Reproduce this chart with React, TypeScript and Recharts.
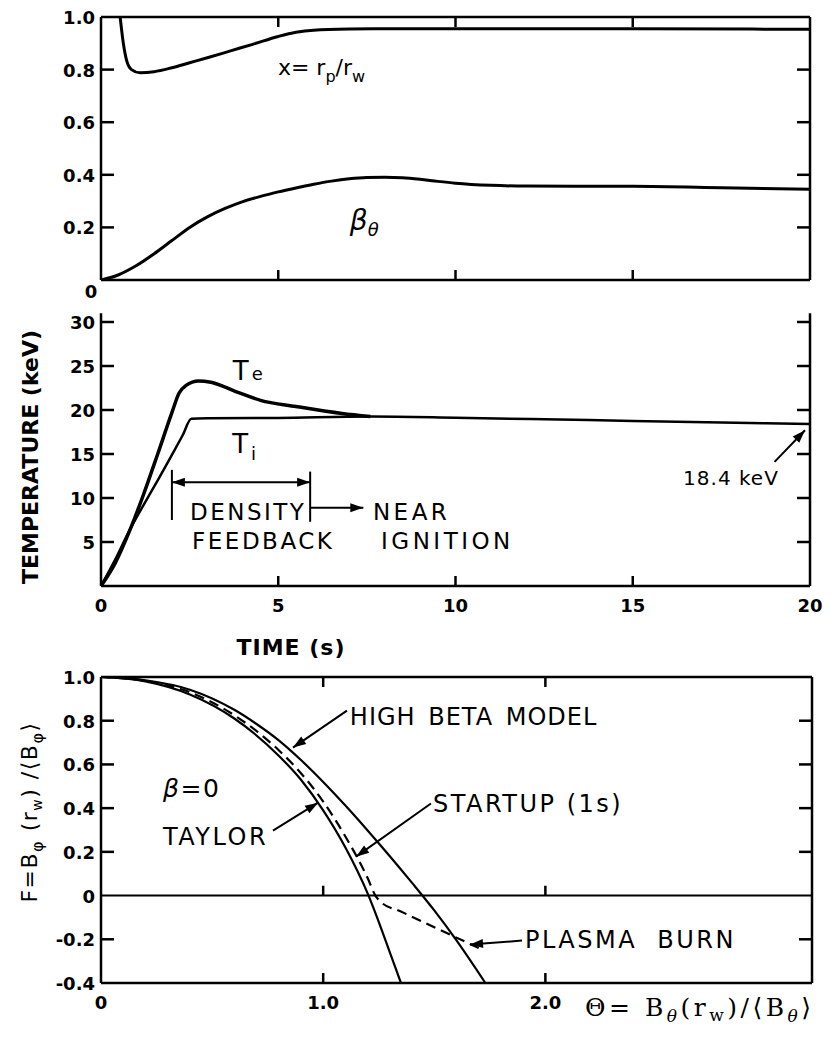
import React from 'react';
import { LineChart, Line, XAxis, YAxis, ReferenceLine } from 'recharts';

// top panel: x = rp/rw and beta-theta against time (s)
const timeX = [0.54, 0.63, 0.72, 0.86, 1.1, 1.5, 2.0, 2.5, 3.0, 3.7, 4.3, 5.0, 5.5, 6.0, 7.0, 8.0, 10, 15, 20];
const xRatio = [1.0, 0.9, 0.836, 0.8, 0.788, 0.792, 0.807, 0.826, 0.845, 0.873, 0.897, 0.926, 0.942, 0.95, 0.954, 0.955, 0.955, 0.955, 0.953];
const timeBeta = [0, 0.5, 1.0, 1.5, 2.0, 2.5, 3.0, 3.5, 4.0, 4.5, 5.0, 5.5, 6.0, 6.5, 7.0, 7.5, 8.0, 8.5, 9.0, 9.5, 10, 11, 12, 15, 17.5, 20];
const betaTheta = [0, 0.02, 0.055, 0.1, 0.15, 0.2, 0.24, 0.272, 0.298, 0.318, 0.335, 0.35, 0.364, 0.376, 0.385, 0.39, 0.391, 0.389, 0.383, 0.375, 0.368, 0.36, 0.357, 0.356, 0.351, 0.345];

// middle panel: temperatures (keV)
const timeTe = [0, 0.4, 0.8, 1.2, 1.6, 2.0, 2.2, 2.4, 2.75, 3.1, 3.8, 4.5, 5.5, 6.8, 7.6];
const tempE = [0, 2.6, 6.2, 10.4, 15.0, 19.7, 21.9, 22.8, 23.3, 23.15, 22.1, 21.1, 20.4, 19.6, 19.25];
const timeTi = [0, 0.4, 0.8, 1.2, 1.6, 2.0, 2.3, 2.55, 3.0, 5.0, 7.6, 10, 12.5, 15, 17.5, 20];
const tempI = [0, 3.0, 6.3, 9.2, 12.0, 14.9, 17.1, 19.0, 19.05, 19.1, 19.25, 19.12, 18.94, 18.76, 18.58, 18.4];

// bottom panel: F against Theta
const thetaTaylor = [0, 0.2, 0.4, 0.6, 0.8, 0.9, 1.0, 1.1, 1.2, 1.25, 1.3, 1.35];
const fTaylor = [1.0, 0.98, 0.92, 0.81, 0.64, 0.53, 0.39, 0.22, 0.01, -0.12, -0.26, -0.4];
const thetaHighBeta = [0, 0.2, 0.4, 0.6, 0.7, 0.8, 0.9, 1.0, 1.1, 1.2, 1.3, 1.4, 1.5, 1.6, 1.73];
const fHighBeta = [1.0, 0.985, 0.942, 0.85, 0.785, 0.71, 0.62, 0.52, 0.412, 0.298, 0.18, 0.058, -0.068, -0.205, -0.4];
const thetaStartup = [0, 0.2, 0.4, 0.6, 0.8, 0.9, 1.0, 1.1, 1.2, 1.235, 1.26, 1.35, 1.5, 1.7];
const fStartup = [1.0, 0.982, 0.93, 0.825, 0.665, 0.56, 0.43, 0.27, 0.08, 0.0, -0.03, -0.073, -0.145, -0.24];

// ticks
const timeTicks = [0, 5, 10, 15, 20];
const innerTimeTicks = [5, 10, 15];
const fracTicks = [0, 0.2, 0.4, 0.6, 0.8, 1.0];
const innerFracTicks = [0.2, 0.4, 0.6, 0.8];
const tempTicks = [5, 10, 15, 20, 25, 30];
const fTicks = [-0.4, -0.2, 0, 0.2, 0.4, 0.6, 0.8, 1.0];
const innerFTicks = [-0.2, 0.2, 0.4, 0.6, 0.8];
const thetaTicks = [0, 1, 2];
const innerThetaTicks = [1, 2];

const INK = '#000';
const SANS = '"DejaVu Sans", "Liberation Sans", sans-serif';
const SERIF = '"DejaVu Serif", serif';
const AXIS = { stroke: INK, strokeWidth: 2.5 };
const TICK_TEXT: React.CSSProperties = { fontFamily: SANS, fontSize: 18, fontWeight: 700, fill: INK };
const NOTE: React.CSSProperties = { fontFamily: SANS, fontSize: 23, fill: INK, letterSpacing: 2.5 };

const pts = (xs: number[], ys: number[]) => xs.map((x, i) => ({ x, y: ys[i] }));
const fmt1 = (v: number) => (v === 0 ? '0' : v.toFixed(1));
const fmtInt = (v: number) => String(v);

// ticks are drawn inward by hand, labels outside
const leftTick = (lines: number[], fmt: (v: number) => string, zeroBelow = false) => (p: any) => {
  const v = p.payload.value;
  const low = zeroBelow && v === 0;
  return (
    <g>
      {lines.includes(v) && <line x1={p.x} y1={p.y} x2={p.x + 13} y2={p.y} stroke={INK} strokeWidth={2.5} />}
      <text x={low ? p.x - 10 : p.x - 6} y={low ? p.y + 18 : p.y + 7} textAnchor={low ? 'middle' : 'end'} style={TICK_TEXT}>
        {fmt(v)}
      </text>
    </g>
  );
};
const rightTick = (p: any) => <line x1={p.x - 13} y1={p.y} x2={p.x} y2={p.y} stroke={INK} strokeWidth={2.5} />;
const topTick = (p: any) => <line x1={p.x} y1={p.y} x2={p.x} y2={p.y + 10} stroke={INK} strokeWidth={2.5} />;
const bottomTick = (lines: number[], fmt: ((v: number) => string) | null) => (p: any) => {
  const v = p.payload.value;
  return (
    <g>
      {lines.includes(v) && <line x1={p.x} y1={p.y} x2={p.x} y2={p.y - 10} stroke={INK} strokeWidth={2.5} />}
      {fmt && (
        <text x={p.x} y={p.y + 26} textAnchor="middle" style={TICK_TEXT}>
          {fmt(v)}
        </text>
      )}
    </g>
  );
};

const ArrowGlyph = ({ x1, y1, x2, y2, both }: any) => {
  const head = (tx: number, ty: number, fx: number, fy: number) => {
    const a = Math.atan2(ty - fy, tx - fx);
    const L = 13;
    const W = 4.5;
    const bx = tx - L * Math.cos(a);
    const by = ty - L * Math.sin(a);
    const px = -Math.sin(a) * W;
    const py = Math.cos(a) * W;
    return <polygon points={`${tx},${ty} ${bx + px},${by + py} ${bx - px},${by - py}`} fill={INK} />;
  };
  return (
    <g>
      <line x1={x1} y1={y1} x2={x2} y2={y2} stroke={INK} strokeWidth={2} />
      {head(x2, y2, x1, y1)}
      {both && head(x1, y1, x2, y2)}
    </g>
  );
};

const arrow = (key: string, from: number[], to: number[], both = false) => (
  <ReferenceLine
    key={key}
    segment={[{ x: from[0], y: from[1] }, { x: to[0], y: to[1] }]}
    ifOverflow="visible"
    shape={(p: any) => <ArrowGlyph {...p} both={both} />}
  />
);
const seg = (key: string, from: number[], to: number[], w = 2) => (
  <ReferenceLine key={key} segment={[{ x: from[0], y: from[1] }, { x: to[0], y: to[1] }]} ifOverflow="visible" stroke={INK} strokeWidth={w} />
);
const textAt = (key: string, x: number, y: number, draw: (px: number, py: number) => React.ReactNode) => (
  <ReferenceLine key={key} segment={[{ x, y }, { x, y }]} ifOverflow="visible" shape={(p: any) => <g>{draw(p.x1, p.y1)}</g>} />
);

export default function App() {
  return (
    <div style={{ position: 'absolute', left: 0, top: 0, width: 829, height: 1053, background: '#fff' }}>
      {/* top panel */}
      <div style={{ position: 'absolute', left: 0, top: 0 }}>
        <LineChart width={829} height={310} margin={{ top: 7, right: 0, bottom: 0, left: 61 }}>
          <XAxis type="number" dataKey="x" domain={[0, 20]} allowDataOverflow ticks={innerTimeTicks} interval={0}
            height={30} tickSize={0} tickMargin={0} tickLine={false} axisLine={AXIS} tick={bottomTick(innerTimeTicks, null)} />
          <XAxis xAxisId="top" orientation="top" type="number" dataKey="x" domain={[0, 20]} allowDataOverflow ticks={innerTimeTicks} interval={0}
            height={10} tickSize={0} tickMargin={0} tickLine={false} axisLine={AXIS} tick={topTick} />
          <YAxis type="number" domain={[0, 1]} allowDataOverflow ticks={fracTicks} interval={0} width={40}
            tickSize={0} tickMargin={0} tickLine={false} axisLine={AXIS} tick={leftTick(innerFracTicks, fmt1, true)} />
          <YAxis yAxisId="right" orientation="right" type="number" domain={[0, 1]} allowDataOverflow ticks={innerFracTicks} interval={0} width={19}
            tickSize={0} tickMargin={0} tickLine={false} axisLine={AXIS} tick={rightTick} />
          <Line data={pts(timeX, xRatio)} dataKey="y" type="monotone" stroke={INK} strokeWidth={3} dot={false} activeDot={false} isAnimationActive={false} />
          <Line data={pts(timeBeta, betaTheta)} dataKey="y" type="monotone" stroke={INK} strokeWidth={3} dot={false} activeDot={false} isAnimationActive={false} />
          {textAt('xl', 4.99, 0.78, (x, y) => (
            <text x={x} y={y} style={{ fontFamily: SANS, fontSize: 22, fill: INK }}>
              x= r<tspan fontSize={16} dy={7}>p</tspan>
              <tspan dy={-7}>/r</tspan>
              <tspan fontSize={16} dy={7}>w</tspan>
            </text>
          ))}
          {textAt('bl', 7.02, 0.19, (x, y) => (
            <text x={x} y={y} style={{ fontFamily: SANS, fontSize: 28, fontStyle: 'italic', fill: INK }}>
              β<tspan fontSize={18} dy={6}>θ</tspan>
            </text>
          ))}
        </LineChart>
      </div>

      {/* middle panel */}
      <div style={{ position: 'absolute', left: 0, top: 300 }}>
        <LineChart width={829} height={330} margin={{ top: 13.2, right: 0, bottom: 0, left: 61 }}>
          <XAxis type="number" dataKey="x" domain={[0, 20]} allowDataOverflow ticks={timeTicks} interval={0}
            height={44} tickSize={0} tickMargin={0} tickLine={false} axisLine={AXIS} tick={bottomTick(innerTimeTicks, fmtInt)} />
          <YAxis type="number" domain={[0, 31]} allowDataOverflow ticks={tempTicks} interval={0} width={40}
            tickSize={0} tickMargin={0} tickLine={false} axisLine={AXIS} tick={leftTick(tempTicks, fmtInt)} />
          <YAxis yAxisId="right" orientation="right" type="number" domain={[0, 31]} allowDataOverflow ticks={tempTicks} interval={0} width={19}
            tickSize={0} tickMargin={0} tickLine={false} axisLine={AXIS} tick={rightTick} />
          <Line data={pts(timeTe, tempE)} dataKey="y" type="monotone" stroke={INK} strokeWidth={3.5} dot={false} activeDot={false} isAnimationActive={false} />
          <Line data={pts(timeTi, tempI)} dataKey="y" type="monotone" stroke={INK} strokeWidth={2.5} dot={false} activeDot={false} isAnimationActive={false} />
          {seg('bl', [2.0, 7.5], [2.0, 13.2])}
          {seg('br', [5.9, 7.3], [5.9, 13.0])}
          {arrow('ba', [2.0, 11.8], [5.9, 11.8], true)}
          {arrow('na', [5.9, 8.9], [7.4, 8.9])}
          {arrow('ka', [19.0, 14.1], [19.86, 17.7])}
          {textAt('te', 3.72, 23.4, (x, y) => (
            <text x={x} y={y} style={{ fontFamily: SANS, fontSize: 26, fill: INK }}>
              T<tspan fontSize={18} dx={3}>e</tspan>
            </text>
          ))}
          {textAt('ti', 3.7, 15.1, (x, y) => (
            <text x={x} y={y} style={{ fontFamily: SANS, fontSize: 26, fill: INK }}>
              T<tspan fontSize={18} dx={3} dy={7}>i</tspan>
            </text>
          ))}
          {textAt('d1', 2.51, 7.5, (x, y) => <text x={x} y={y} style={NOTE}>DENSITY</text>)}
          {textAt('d2', 2.57, 4.2, (x, y) => <text x={x} y={y} style={NOTE}>FEEDBACK</text>)}
          {textAt('n1', 7.67, 7.5, (x, y) => <text x={x} y={y} style={{ ...NOTE, letterSpacing: 3.5 }}>NEAR</text>)}
          {textAt('n2', 7.9, 4.2, (x, y) => <text x={x} y={y} style={{ ...NOTE, letterSpacing: 3.5 }}>IGNITION</text>)}
          {textAt('kv', 16.42, 11.5, (x, y) => (
            <text x={x} y={y} style={{ fontFamily: SANS, fontSize: 20, fill: INK, letterSpacing: 1 }}>18.4 keV</text>
          ))}
        </LineChart>
      </div>

      {/* bottom panel */}
      <div style={{ position: 'absolute', left: 0, top: 650 }}>
        <LineChart width={829} height={403} margin={{ top: 17, right: 0, bottom: 0, left: 61 }}>
          <XAxis type="number" dataKey="x" domain={[0, 3.2]} allowDataOverflow ticks={thetaTicks} interval={0}
            height={70} tickSize={0} tickMargin={0} tickLine={false} axisLine={AXIS} tick={bottomTick(innerThetaTicks, fmt1)} />
          <XAxis xAxisId="top" orientation="top" type="number" dataKey="x" domain={[0, 3.2]} allowDataOverflow ticks={innerThetaTicks} interval={0}
            height={10} tickSize={0} tickMargin={0} tickLine={false} axisLine={AXIS} tick={topTick} />
          <YAxis type="number" domain={[-0.4, 1]} allowDataOverflow ticks={fTicks} interval={0} width={40}
            tickSize={0} tickMargin={0} tickLine={false} axisLine={AXIS} tick={leftTick(innerFTicks, fmt1)} />
          <YAxis yAxisId="right" orientation="right" type="number" domain={[-0.4, 1]} allowDataOverflow ticks={innerFTicks} interval={0} width={17}
            tickSize={0} tickMargin={0} tickLine={false} axisLine={AXIS} tick={rightTick} />
          <ReferenceLine y={0} stroke={INK} strokeWidth={2} />
          {seg('z1', [1, 0], [1, 0.045], 2.5)}
          {seg('z2', [2, 0], [2, 0.045], 2.5)}
          <Line data={pts(thetaTaylor, fTaylor)} dataKey="y" type="monotone" stroke={INK} strokeWidth={2.2} dot={false} activeDot={false} isAnimationActive={false} />
          <Line data={pts(thetaHighBeta, fHighBeta)} dataKey="y" type="monotone" stroke={INK} strokeWidth={2.2} dot={false} activeDot={false} isAnimationActive={false} />
          <Line data={pts(thetaStartup, fStartup)} dataKey="y" type="monotone" stroke={INK} strokeWidth={2.2} strokeDasharray="10 6" dot={false} activeDot={false} isAnimationActive={false} />
          {arrow('ah', [1.107, 0.846], [0.864, 0.677])}
          {arrow('at', [0.774, 0.297], [0.977, 0.425])}
          {arrow('as', [1.485, 0.421], [1.148, 0.178])}
          {arrow('ap', [1.895, -0.206], [1.661, -0.224])}
          {textAt('hb', 1.12, 0.782, (x, y) => (
            <text x={x} y={y} style={{ ...NOTE, fontSize: 24, letterSpacing: 1, wordSpacing: 4 }}>HIGH BETA MODEL</text>
          ))}
          {textAt('b0', 0.279, 0.453, (x, y) => (
            <text x={x} y={y} style={{ ...NOTE, fontSize: 25, letterSpacing: 1.5 }}>
              <tspan fontStyle="italic">β</tspan>=0
            </text>
          ))}
          {textAt('ty', 0.279, 0.233, (x, y) => <text x={x} y={y} style={{ ...NOTE, fontSize: 24 }}>TAYLOR</text>)}
          {textAt('su', 1.494, 0.384, (x, y) => <text x={x} y={y} style={{ ...NOTE, fontSize: 24 }}>STARTUP (1s)</text>)}
          {textAt('pb', 1.908, -0.238, (x, y) => (
            <text x={x} y={y} style={{ ...NOTE, fontSize: 24, wordSpacing: 10 }}>PLASMA BURN</text>
          ))}
        </LineChart>
      </div>

      {/* axis titles */}
      <svg width={829} height={1053} style={{ position: 'absolute', left: 0, top: 0, pointerEvents: 'none' }}>
        <text x={38} y={457} transform="rotate(-90 38 457)" textAnchor="middle"
          style={{ fontFamily: SANS, fontSize: 22, fontWeight: 700, fill: INK }}>
          TEMPERATURE (keV)
        </text>
        <text x={291} y={655} textAnchor="middle" style={{ fontFamily: SANS, fontSize: 22, fontWeight: 700, fill: INK, letterSpacing: 1 }}>
          TIME (s)
        </text>
        <text x={37} y={812} transform="rotate(-90 37 812)" textAnchor="middle"
          style={{ fontFamily: SANS, fontSize: 22, fill: INK, letterSpacing: 1.5 }}>
          F=B<tspan fontSize={16} dy={6}>φ</tspan>
          <tspan dy={-6}> (r</tspan>
          <tspan fontSize={14} dy={5}>w</tspan>
          <tspan dy={-5}>) /⟨B</tspan>
          <tspan fontSize={16} dy={6}>φ</tspan>
          <tspan dy={-6}>⟩</tspan>
        </text>
        <text x={585} y={1016} style={{ fontFamily: SERIF, fontSize: 25, fill: INK, letterSpacing: 3.5 }}>
          Θ= B<tspan fontSize={17} dy={6} fontStyle="italic">θ</tspan>
          <tspan dy={-6}>(r</tspan>
          <tspan fontSize={17} dy={5}>w</tspan>
          <tspan dy={-5}>)/⟨B</tspan>
          <tspan fontSize={17} dy={6} fontStyle="italic">θ</tspan>
          <tspan dy={-6}>⟩</tspan>
        </text>
      </svg>
    </div>
  );
}
